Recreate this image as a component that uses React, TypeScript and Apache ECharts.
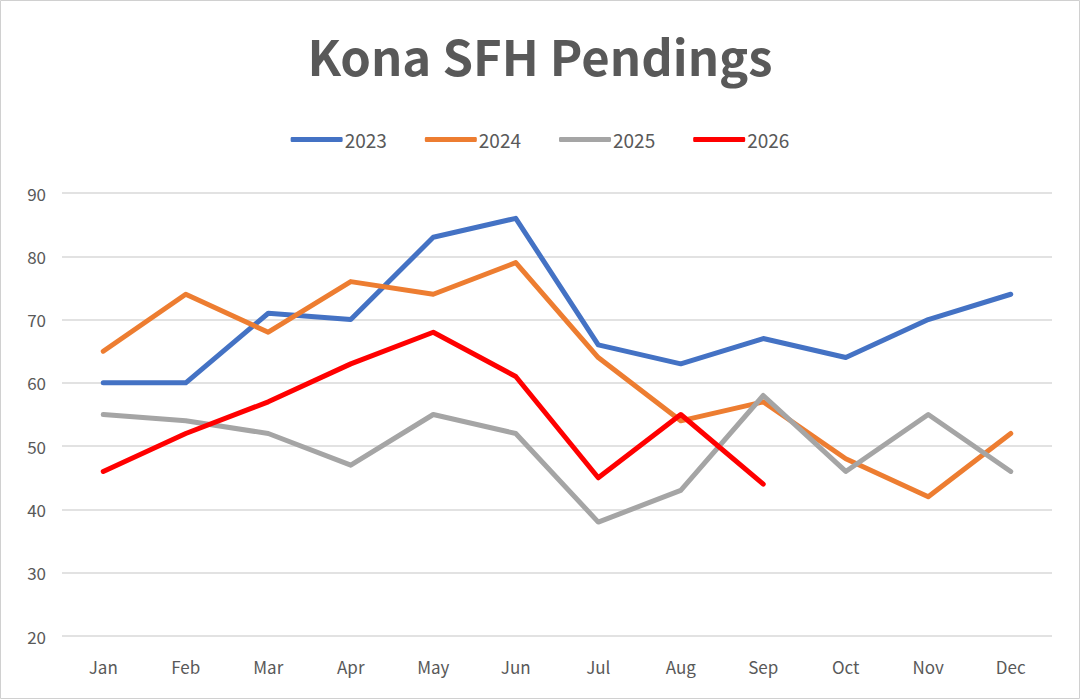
import React, { useEffect, useRef } from 'react';
import * as echarts from 'echarts';

const months = ['Jan', 'Feb', 'Mar', 'Apr', 'May', 'Jun', 'Jul', 'Aug', 'Sep', 'Oct', 'Nov', 'Dec'];
const y2023 = [60, 60, 71, 70, 83, 86, 66, 63, 67, 64, 70, 74];
const y2024 = [65, 74, 68, 76, 74, 79, 64, 54, 57, 48, 42, 52];
const y2025 = [55, 54, 52, 47, 55, 52, 38, 43, 58, 46, 55, 46];
const y2026 = [46, 52, 57, 63, 68, 61, 45, 55, 44];

const font = '"Noto Sans CJK JP", "Noto Sans", sans-serif';

const App = () => {
  const chartRef = useRef<HTMLDivElement>(null);

  useEffect(() => {
    const chart = echarts.init(chartRef.current!, null, { renderer: 'svg' });

    const mk = (name: string, data: number[], color: string) => ({
      name,
      type: 'line' as const,
      data,
      symbol: 'none',
      lineStyle: { color, width: 5, cap: 'round' as const, join: 'round' as const },
      itemStyle: { color },
    });

    chart.setOption({
      animation: false,
      backgroundColor: '#ffffff',
      title: {
        text: 'Kona SFH Pendings',
        left: 'center',
        top: 25,
        textStyle: { color: '#595959', fontSize: 49, fontWeight: 'bold', fontFamily: font },
      },
      legend: {
        top: 125,
        left: 'center',
        itemWidth: 52,
        itemHeight: 5,
        itemGap: 38,
        icon: 'roundRect',
        textStyle: { color: '#595959', fontSize: 19, fontFamily: font, padding: [0, 0, 0, -3] },
        data: ['2023', '2024', '2025', '2026'],
      },
      grid: { left: 62, right: 28, top: 193, bottom: 63 },
      xAxis: {
        type: 'category',
        data: months,
        boundaryGap: true,
        axisLine: { show: false },
        axisTick: { show: false },
        axisLabel: { color: '#595959', fontSize: 17, fontFamily: font, margin: 22 },
      },
      yAxis: {
        type: 'value',
        min: 20,
        max: 90,
        interval: 10,
        axisLine: { show: false },
        axisTick: { show: false },
        axisLabel: { color: '#595959', fontSize: 17, fontFamily: font, margin: 16 },
        splitLine: { lineStyle: { color: '#d9d9d9', width: 1.5 } },
      },
      series: [
        mk('2023', y2023, '#4472c4'),
        mk('2024', y2024, '#ed7d31'),
        mk('2025', y2025, '#a5a5a5'),
        mk('2026', y2026, '#ff0000'),
      ],
      graphic: [
        {
          type: 'rect',
          shape: { x: 0.5, y: 0.5, width: 1079, height: 698 },
          style: { fill: 'none', stroke: '#d0d0d0', lineWidth: 1 },
          silent: true,
        },
      ],
    });

    return () => chart.dispose();
  }, []);

  return (
    <div
      ref={chartRef}
      style={{ position: 'fixed', left: 0, top: 0, width: 1080, height: 699 }}
    ></div>
  );
};

export default App;
